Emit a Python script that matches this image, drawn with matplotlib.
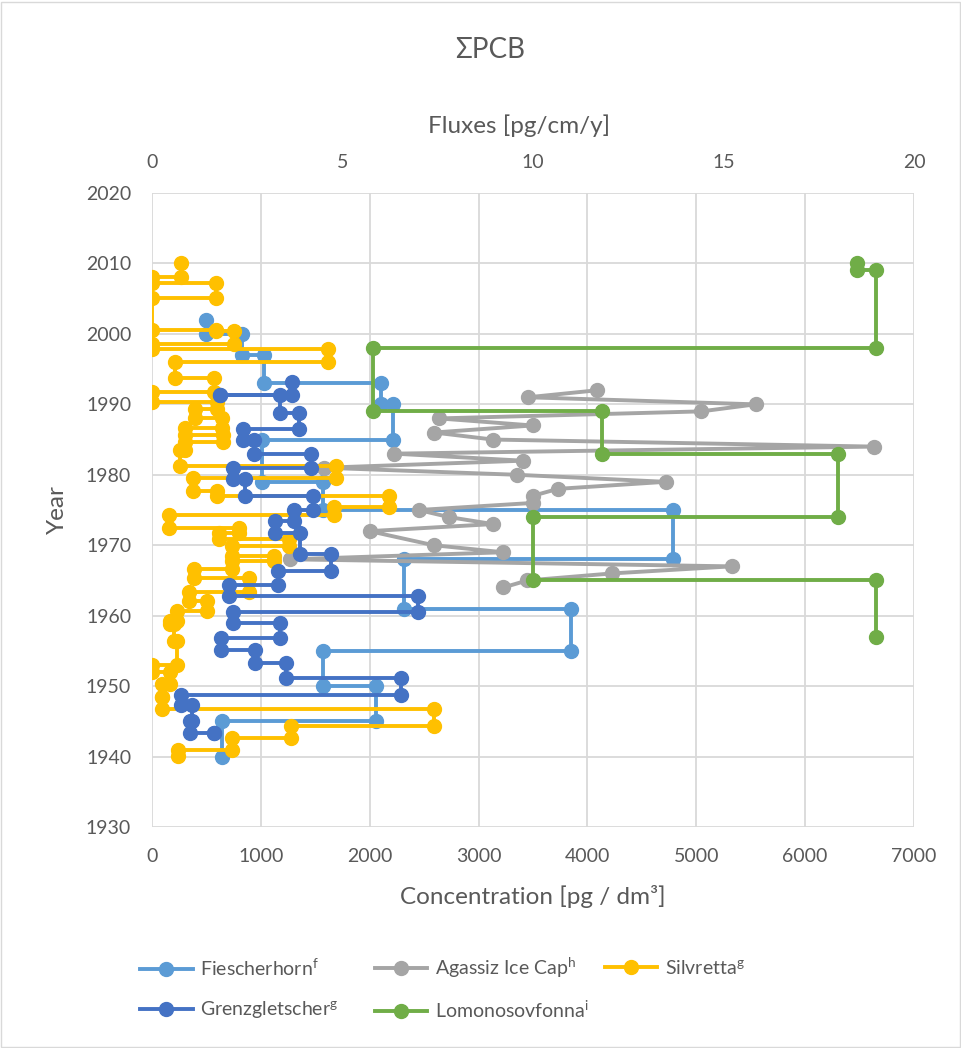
import matplotlib
matplotlib.use("Agg")
import matplotlib.pyplot as plt
from matplotlib.patches import Rectangle

plt.rcParams['font.family'] = ['Lato', 'DejaVu Sans']
plt.rcParams['mathtext.default'] = 'regular'

# Step series: one value per core section, section boundaries given in years
# Fiescherhorn, concentration [pg/dm3]
fiesch_years = [2002, 2000, 1997, 1993, 1990, 1985, 1979, 1975, 1968, 1961, 1955, 1950, 1945, 1940]
fiesch_conc = [499, 827, 1032, 2105, 2215, 1011, 1568, 4782, 2319, 3853, 1568, 2061, 643]

# Grenzgletscher, concentration [pg/dm3]
grenz_years = [1993.1, 1991.3, 1991.3, 1988.8, 1986.5, 1985.0, 1983.0, 1980.9, 1979.4, 1977.0,
               1975.0, 1973.4, 1971.8, 1968.7, 1966.4, 1964.4, 1962.8, 1960.5, 1959.0, 1956.8,
               1955.1, 1953.3, 1951.1, 1948.7, 1947.3, 1945.1, 1943.3, 1943.3]
grenz_conc = [1287, 628, 1173, 1347, 836, 934, 1461, 744, 857, 1480,
              1308, 1133, 1356, 1645, 1154, 704, 2441, 744, 1179, 637,
              949, 1231, 2291, 269, 368, 352, 573]

# Silvretta, concentration [pg/dm3]
silv_years = [2010.0, 2008.1, 2007.2, 2005.1, 2000.6, 2000.4, 1998.5, 1997.8, 1996.0, 1993.8,
              1991.7, 1990.4, 1989.3, 1988.1, 1986.7, 1985.7, 1984.6, 1983.5, 1981.3, 1979.6,
              1977.7, 1977.0, 1975.4, 1974.3, 1972.5, 1971.8, 1970.9, 1969.9, 1968.5, 1967.8,
              1966.6, 1965.4, 1963.3, 1962.1, 1960.6, 1959.2, 1958.8, 1956.4, 1953.0, 1952.0,
              1950.3, 1948.4, 1946.7, 1944.3, 1942.7, 1940.9, 1940.1]
silv_conc = [267, 0, 591, 0, 591, 750, 0, 1614, 214, 573,
             0, 597, 398, 643, 306, 655, 306, 260, 1694, 380,
             597, 2174, 1669, 153, 796, 612, 1255, 735, 1118, 735,
             382, 888, 336, 505, 230, 168, 199, 230, 0, 168,
             92, 92, 2588, 1277, 735, 239]

# Lomonosovfonna, flux [pg/cm/y]
lomo_years = [2010, 2009, 1998, 1989, 1983, 1974, 1965, 1957]
lomo_flux = [18.5, 19.0, 5.8, 11.8, 18.0, 10.0, 19.0]

# Agassiz Ice Cap, flux [pg/cm/y], one point per year
agassiz_years = [1992, 1991, 1990, 1989, 1988, 1987, 1986, 1985, 1984, 1983, 1982, 1981, 1980, 1979,
                 1978, 1977, 1976, 1975, 1974, 1973, 1972, 1970, 1969, 1968, 1967, 1966, 1965, 1964]
agassiz_flux = [11.69, 9.86, 15.84, 14.42, 7.53, 9.99, 7.40, 8.95, 18.95, 6.36, 9.74, 4.52, 9.58, 13.48,
                10.65, 9.99, 9.99, 7.00, 7.79, 8.95, 5.71, 7.39, 9.22, 3.63, 15.21, 12.08, 9.85, 9.22]

GRID = "#D9D9D9"
TXT = "#595959"


def steps(vals, years):
    xs, ys = [], []
    for i, v in enumerate(vals):
        xs += [v, v]
        ys += [years[i], years[i + 1]]
    return xs, ys


W, H = 962, 1048
L, R, T, B = 152, 914, 193, 827
fig = plt.figure(figsize=(W / 100, H / 100), dpi=100)
ax = fig.add_axes([L / W, 1 - B / H, (R - L) / W, (B - T) / H])
ax2 = ax.twiny()

ax.set_xlim(0, 7000)
ax.set_ylim(1930, 2020)
ax2.set_xlim(0, 20)
ax.set_xticks(range(0, 7001, 1000))
ax.set_yticks(range(1930, 2021, 10))
ax2.set_xticks(range(0, 21, 5))
ax.grid(True, color=GRID, lw=1.3)
ax.set_axisbelow(True)
for a in (ax, ax2):
    for s in a.spines.values():
        s.set_visible(False)
    a.tick_params(length=0, colors=TXT, labelsize=14)
ax.tick_params(axis="x", pad=15)
ax.tick_params(axis="y", pad=15)
ax2.tick_params(axis="x", pad=16)

ax.set_autoscale_on(False)
style = dict(lw=2.8, marker="o", ms=10, solid_joinstyle="round")
h_f, = ax.plot(*steps(fiesch_conc, fiesch_years), color="#5B9BD5", **style)
h_a, = ax.plot(agassiz_flux, agassiz_years, color="#A5A5A5", transform=ax2.transData, **style)
h_s, = ax.plot(*steps(silv_conc, silv_years), color="#FFC000", **style)
h_g, = ax.plot(*steps(grenz_conc, grenz_years), color="#4472C4", **style)
h_l, = ax.plot(*steps(lomo_flux, lomo_years), color="#70AD47", transform=ax2.transData, **style)

ax.set_xlabel("Concentration [pg / dm³]", fontsize=17.5, color=TXT, va="center")
ax2.set_xlabel("Fluxes [pg/cm/y]", fontsize=17.5, color=TXT, va="center")
ax.set_ylabel("Year", fontsize=17.5, color=TXT, va="center")
ax.xaxis.set_label_coords(0.5, (B - 897) / (B - T))
ax2.xaxis.set_label_coords((519 - L) / (R - L), 1 + (T - 126) / (B - T))
ax.yaxis.set_label_coords((57 - L) / (R - L), 1 - (510 - T) / (B - T))

fig.text(490 / W, 1 - 50 / H, "ΣPCB", ha="center", va="center", fontsize=20, color=TXT)

# legend entries placed on the Excel grid: two rows, three columns
entries = [
    (h_f, "Fiescherhorn$^{f}$", 140, 968),
    (h_a, "Agassiz Ice Cap$^{h}$", 375, 968),
    (h_s, "Silvretta$^{g}$", 605, 968),
    (h_g, "Grenzgletscher$^{g}$", 140, 1010),
    (h_l, "Lomonosovfonna$^{i}$", 375, 1010),
]
for h, lab, x0, y0 in entries:
    leg = fig.legend([h], [lab], loc="center left", bbox_to_anchor=(x0 / W, 1 - y0 / H),
                     frameon=False, fontsize=14, handlelength=2.7, handletextpad=0.4,
                     borderpad=0, borderaxespad=0)
    for t in leg.get_texts():
        t.set_color(TXT)

fig.patches.append(Rectangle((0.001, 0.001), 0.997, 0.997, transform=fig.transFigure,
                             fill=False, edgecolor=GRID, lw=1))

fig.savefig("out.png", dpi=100)
